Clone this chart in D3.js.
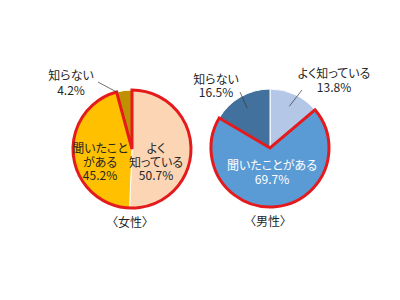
<!DOCTYPE html>
<html>
<head>
<meta charset="utf-8">
<script src="https://cdn.jsdelivr.net/npm/d3@7"></script>
<style>
  body { margin: 0; background: #fff; }
  text { font-family: "Noto Sans CJK JP", sans-serif; font-size: 12px; fill: #262626; font-feature-settings: "palt"; }
</style>
</head>
<body>
<svg width="400" height="300"></svg>
<script>
// data
const categories = ["よく知っている", "聞いたことがある", "知らない"];
const femaleValues = [50.7, 45.2, 4.2];
const maleValues = [13.8, 69.7, 16.5];
const femaleColors = ["#fcd5b4", "#ffc000", "#bf9000"];
const maleColors = ["#b4c7e7", "#5b9bd5", "#41719c"];
const titles = ["〈女性〉", "〈男性〉"];

const svg = d3.select("svg");
const r = 59;
const red = "#e41a1c";

const pie = d3.pie().sort(null).value(d => d);
const arc = d3.arc().innerRadius(0).outerRadius(r);

function drawPie(cx, cy, values, colors, highlight, labels, title) {
    const g = svg.append("g").attr("transform", `translate(${cx},${cy})`);
    const arcs = pie(values);

    g.selectAll("path.slice")
        .data(arcs)
        .enter()
        .append("path")
        .attr("class", "slice")
        .attr("d", arc)
        .attr("fill", (d, i) => colors[i])
        .attr("stroke", "#fff")
        .attr("stroke-width", 1);

    // red outline round the highlighted slices
    const hl = arcs.filter((d, i) => highlight.includes(i));
    const outline = {
        startAngle: d3.min(hl, d => d.startAngle),
        endAngle: d3.max(hl, d => d.endAngle)
    };
    g.append("path")
        .attr("d", arc(outline))
        .attr("fill", "none")
        .attr("stroke", red)
        .attr("stroke-width", 3)
        .attr("stroke-linejoin", "miter");

    labels.forEach(l => {
        const a = arcs[l.i];
        const ang = l.edge ? a.startAngle : (a.startAngle + a.endAngle) / 2;
        if (l.line) {
            const p = [Math.sin(ang) * r * l.line, -Math.cos(ang) * r * l.line];
            g.append("line")
                .attr("x1", l.lx).attr("y1", l.ly)
                .attr("x2", p[0]).attr("y2", p[1])
                .attr("stroke", "#333")
                .attr("stroke-width", 0.7);
        }
        const t = g.append("text")
            .attr("text-anchor", "middle")
            .style("fill", l.white ? "#fff" : null);
        l.lines.concat([values[l.i] + "%"]).forEach((s, k) => {
            t.append("tspan")
                .attr("x", l.x)
                .attr("y", l.y + k * (l.dy || 14))
                .text(s);
        });
    });

    g.append("text")
        .attr("x", -2)
        .attr("y", r + 19)
        .attr("text-anchor", "middle")
        .text(title);
}

drawPie(132, 149, femaleValues, femaleColors, [0, 1], [
    {i: 0, lines: ["よく", "知っている"], x: 24, y: 4, dy: 13.5},
    {i: 1, lines: ["聞いたこと", "がある"], x: -32, y: 4, dy: 13.5},
    {i: 2, lines: ["知らない"], x: -61, y: -69, dy: 15, line: 1.0, edge: true, lx: -34, ly: -67}
], titles[0]);

drawPie(270, 148, maleValues, maleColors, [1], [
    {i: 0, lines: ["よく知っている"], x: 64, y: -70, line: 0.78, lx: 32, ly: -58},
    {i: 1, lines: ["聞いたことがある"], x: 2, y: 22, white: true},
    {i: 2, lines: ["知らない"], x: -54, y: -64, dy: 13, line: 0.78, lx: -30, ly: -56}
], titles[1]);
</script>
</body>
</html>
